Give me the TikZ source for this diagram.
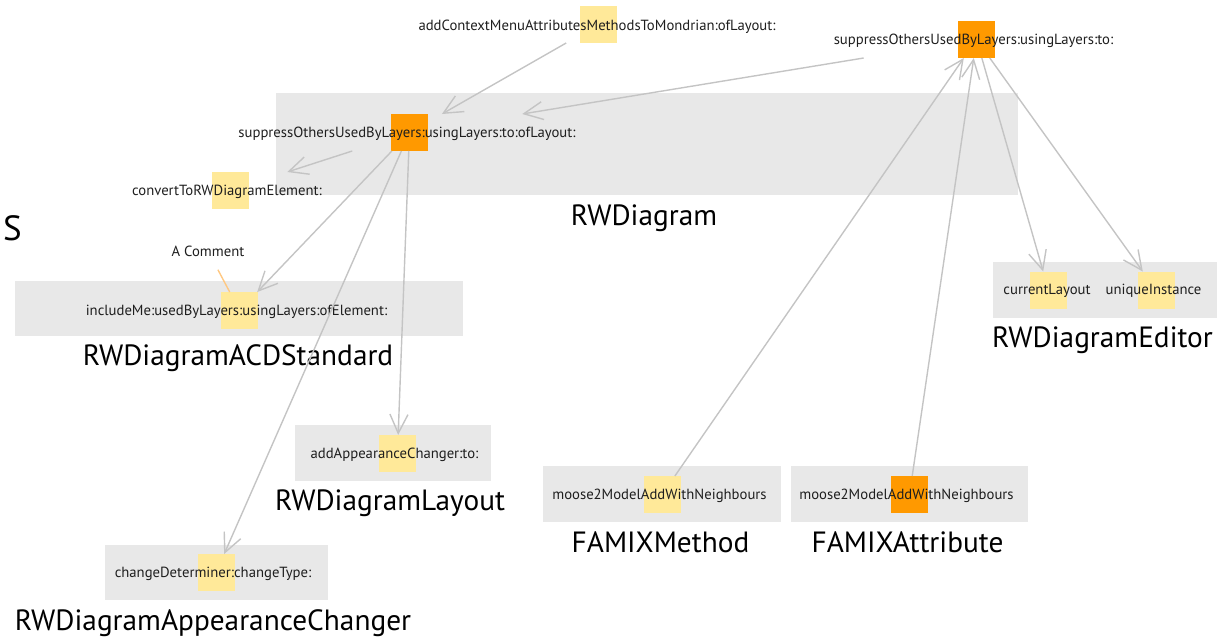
\documentclass[tikz,border=0pt]{standalone}
\usepackage{fontspec}
\setmainfont{PT Sans}
\usetikzlibrary{arrows.meta}
\definecolor{boxgray}{RGB}{232,232,232}
\definecolor{hlyellow}{RGB}{255,233,153}
\definecolor{hlorange}{RGB}{255,153,0}
\definecolor{edgegray}{RGB}{196,196,196}
\definecolor{cmtline}{RGB}{255,200,130}
\definecolor{ink}{RGB}{30,30,30}

% edge between two highlighted selectors, cut at the top/bottom lines of each square
\newcommand{\downlink}[3][edge]{%
  \draw[#1] (intersection of #2.center--#3.center and #2.south west--#2.south east)
         -- (intersection of #2.center--#3.center and #3.north west--#3.north east);}
\newcommand{\uplink}[3][edge]{%
  \draw[#1] (intersection of #2.center--#3.center and #2.north west--#2.north east)
         -- (intersection of #2.center--#3.center and #3.south west--#3.south east);}

\begin{document}
\begin{tikzpicture}[x=1pt,y=-1pt,
  classbox/.style={fill=boxgray, inner sep=0, outer sep=0, anchor=north west},
  hl/.style={fill=hlyellow, minimum size=37pt, inner sep=0, outer sep=0},
  hlo/.style={hl, fill=hlorange},
  method/.style={font=\fontsize{14.7}{17}\selectfont, text=ink, anchor=base, inner sep=0},
  classname/.style={font=\fontsize{29.3}{33}\selectfont, text=black, anchor=base, inner sep=0},
  edge/.style={draw=edgegray, line width=1.4pt,
    -{Straight Barb[length=19pt,width=18pt,line width=1.4pt]}},
  note/.style={draw=cmtline, line width=1.4pt},
]
\useasboundingbox (0,0) rectangle (1232,638);

% class containers
\node[classbox, minimum width=742pt, minimum height=102pt] (cDiagram) at (276,93) {};
\node[classbox, minimum width=448pt, minimum height=55pt] (cACD) at (15,281) {};
\node[classbox, minimum width=224pt, minimum height=56pt] (cEditor) at (993,262) {};
\node[classbox, minimum width=196pt, minimum height=56pt] (cLayout) at (295,425) {};
\node[classbox, minimum width=238pt, minimum height=56pt] (cMethod) at (543,466) {};
\node[classbox, minimum width=237pt, minimum height=56pt] (cAttr) at (791,466) {};
\node[classbox, minimum width=223pt, minimum height=55pt] (cChanger) at (105,545) {};

% highlighted selectors
\node[hl]  (sqCtx)   at (598.5,24.5) {};
\node[hlo] (sqTop)   at (976.5,39.5) {};
\node[hlo] (sqLay)   at (409.5,132.5) {};
\node[hl]  (sqConv)  at (230,190.5) {};
\node[hl]  (sqIncl)  at (239.5,310.5) {};
\node[hl]  (sqCur)   at (1048.5,290) {};
\node[hl]  (sqUniq)  at (1156,290) {};
\node[hl]  (sqApp)   at (397.5,453.5) {};
\node[hl]  (sqMeth)  at (662,494.5) {};
\node[hlo] (sqAttr)  at (909.5,494.5) {};
\node[hl]  (sqChg)   at (216,572.5) {};

% selector names
\node[method] (tCtx)  at (597,30) {addContextMenuAttributesMethodsToMondrian:ofLayout:};
\node[method] (tTop)  at (973.5,44.5) {suppressOthersUsedByLayers:usingLayers:to:};
\node[method] (tLay)  at (407,137) {suppressOthersUsedByLayers:usingLayers:to:ofLayout:};
\node[method] (tConv) at (227,195) {convertToRWDiagramElement:};
\node[method] (tIncl) at (236.5,315) {includeMe:usedByLayers:usingLayers:ofElement:};
\node[method] (tCur)  at (1047,294.5) {currentLayout};
\node[method] (tUniq) at (1153.5,294.5) {uniqueInstance};
\node[method] (tApp)  at (394.5,458) {addAppearanceChanger:to:};
\node[method] (tMeth) at (659.5,499) {moose2ModelAddWithNeighbours};
\node[method] (tAttr) at (906.5,499) {moose2ModelAddWithNeighbours};
\node[method] (tChg)  at (213,577) {changeDeterminer:changeType:};

% comment
\node[font=\fontsize{14.7}{17}\selectfont, text=ink, inner sep=0, minimum height=37pt] (cmt) at (208,251) {A Comment};

% class names
\node[classname] (nDiagram) at (644,225) {RWDiagram};
\node[classname] (nACD)     at (238,365) {RWDiagramACDStandard};
\node[classname] (nEditor)  at (1102.5,347) {RWDiagramEditor};
\node[classname] (nLayout)  at (390,510) {RWDiagramLayout};
\node[classname] (nMethod)  at (660.5,552) {FAMIXMethod};
\node[classname] (nAttr)    at (907.5,552) {FAMIXAttribute};
\node[classname] (nChanger) at (213,630) {RWDiagramAppearanceChanger};
\node[classname, font=\fontsize{35}{38}\selectfont, anchor=base west] (nS) at (3,240) {S};

% dependencies
\downlink{sqCtx}{sqLay}
\downlink{sqTop}{sqLay}
\downlink{sqLay}{sqConv}
\downlink{sqLay}{sqIncl}
\downlink{sqLay}{sqChg}
\downlink{sqLay}{sqApp}
\uplink{sqMeth}{sqTop}
\uplink{sqAttr}{sqTop}
\downlink{sqTop}{sqCur}
\downlink{sqTop}{sqUniq}
\downlink[note]{cmt}{sqIncl}
\end{tikzpicture}
\end{document}
